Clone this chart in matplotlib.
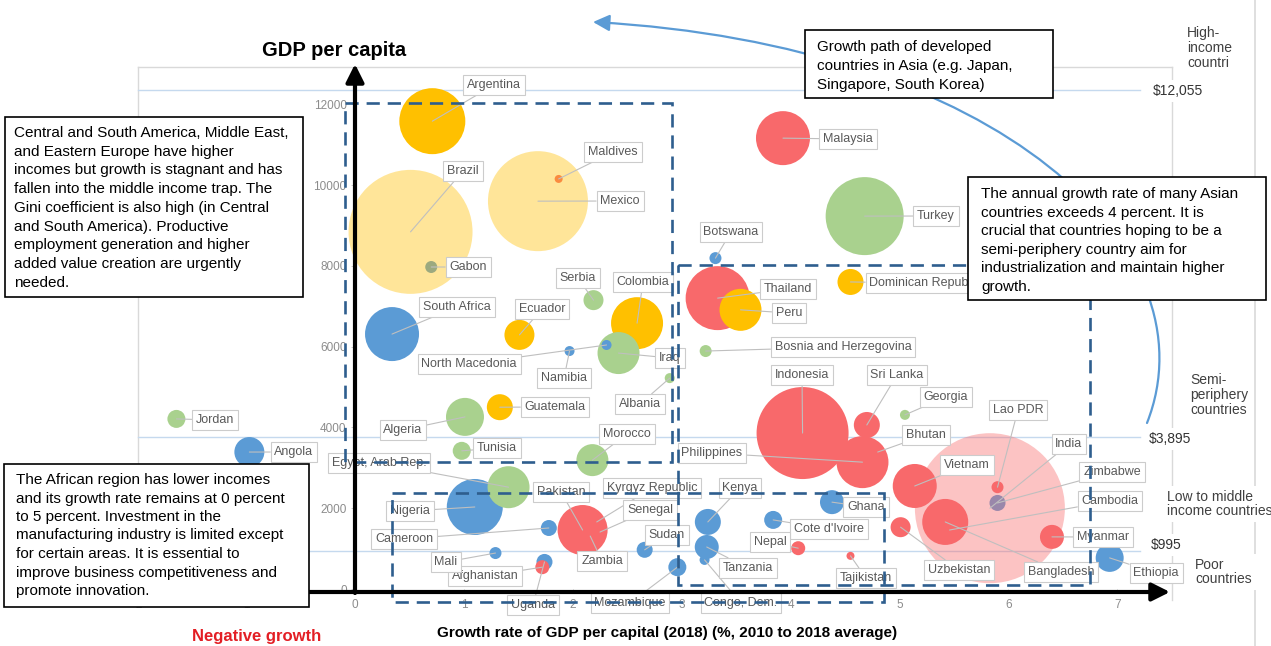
import matplotlib
matplotlib.use("Agg")
import matplotlib.pyplot as plt
from matplotlib.patches import Rectangle, FancyArrowPatch
from matplotlib.path import Path
from matplotlib.colors import to_rgba

plt.rcParams["font.family"] = ["Liberation Sans", "DejaVu Sans"]
plt.rcParams["axes.unicode_minus"] = False

# ---- data: growth (% avg 2010-2018), GDP per capita (US$), bubble size ----
countries = [
    "Zambia", "Kyrgyz Republic", "Senegal", "Congo, Dem.", "Bhutan", "Cambodia",
    "Indonesia", "Turkey", "Argentina", "Thailand", "Nigeria", "Malaysia",
    "South Africa", "Colombia", "Philippines", "Pakistan", "Bangladesh", "Vietnam",
    "Peru", "Iraq", "Egypt, Arab Rep.", "Algeria", "Morocco", "Ecuador", "Angola",
    "Ethiopia", "Kenya", "Guatemala", "Sri Lanka", "Dominican Republic", "Tanzania",
    "Ghana", "Myanmar", "Uzbekistan", "Serbia", "Jordan", "Tunisia", "Mozambique",
    "Cote d'Ivoire", "Cameroon", "Sudan", "Uganda", "Zimbabwe", "Afghanistan",
    "Nepal", "Gabon", "Mali", "Botswana", "Bosnia and Herzegovina", "Lao PDR",
    "North Macedonia", "Namibia", "Albania", "Georgia", "Maldives", "Tajikistan",
    "Brazil", "Mexico", "India",
]
growth = [
    2.16, 2.22, 2.25, 3.21, 4.80, 5.46,
    4.11, 4.68, 0.71, 3.33, 1.10, 3.93,
    0.34, 2.59, 4.66, 2.09, 5.42, 5.14,
    3.54, 2.42, 1.41, 1.01, 2.18, 1.51, -0.97,
    6.93, 3.24, 1.33, 4.70, 4.55, 3.23,
    4.38, 6.40, 5.01, 2.19, -1.64, 0.98, 2.96,
    3.84, 1.78, 2.66, 1.74, 5.90, 1.72,
    4.07, 0.70, 1.29, 3.31, 3.22, 5.90,
    2.31, 1.97, 2.89, 5.05, 1.87, 4.55,
    0.51, 1.68, 5.83,
]
gdp_per_capita = [
    1310, 1660, 1410, 720, 3390, 1460,
    3860, 9230, 11580, 7200, 2030, 11160,
    6310, 6580, 3140, 1460, 1660, 2550,
    6910, 5840, 2520, 4260, 3190, 6290, 3390,
    770, 1660, 4500, 4060, 7600, 1040,
    2150, 1290, 1530, 7150, 4210, 3420, 540,
    1710, 1510, 970, 670, 2130, 540,
    1010, 7970, 890, 8190, 5890, 2520,
    6040, 5890, 5220, 4310, 10150, 820,
    8840, 9600, 2000,
]
bubble_size = [
    6, 5, 6, 5, 7, 8,
    46, 39, 33, 32, 28, 27,
    27, 26, 26, 25, 23, 22,
    21, 21, 21, 19, 16, 15, 15,
    14, 13, 13, 13, 13, 12,
    12, 12, 10, 10, 9, 9, 9,
    9, 8, 8, 8, 8, 7,
    7, 6, 6, 6, 6, 6,
    5, 5, 5, 5, 4, 4,
    62, 50, 75,
]
region = [
    "Africa", "Asia", "Africa", "Africa", "Asia", "Asia",
    "Asia", "MidEast/Europe", "LatAm", "Asia", "Africa", "Asia",
    "Africa", "LatAm", "Asia", "Asia", "Asia", "Asia",
    "LatAm", "MidEast/Europe", "MidEast/Europe", "MidEast/Europe", "MidEast/Europe", "LatAm", "Africa",
    "Africa", "Africa", "LatAm", "Asia", "LatAm", "Africa",
    "Africa", "Asia", "Asia", "MidEast/Europe", "MidEast/Europe", "MidEast/Europe", "Africa",
    "Africa", "Africa", "Africa", "Africa", "Africa", "Asia",
    "Asia", "Africa", "Africa", "Africa", "MidEast/Europe", "Asia",
    "Africa", "Africa", "MidEast/Europe", "MidEast/Europe", "Asia", "Asia",
    "LatAm", "LatAm", "Asia",
]
translucent = ["Brazil", "Mexico", "India"]

x_ticks = [-2, -1, 0, 1, 2, 3, 4, 5, 6, 7]
y_ticks = [0, 2000, 4000, 6000, 8000, 10000, 12000]

threshold_labels = ["$12,055", "$3,895", "$995"]
group_labels = ["High-\nincome\ncountri", "Semi-\nperiphery\ncountries",
                "Low to middle\nincome countries", "Poor\ncountries"]

note_latam = ["Central and South America, Middle East,",
              "and Eastern Europe have higher",
              "incomes but growth is stagnant and has",
              "fallen into the middle income trap. The",
              "Gini coefficient is also high (in Central",
              "and South America). Productive",
              "employment generation and higher",
              "added value creation are urgently",
              "needed."]
note_africa = ["The African region has lower incomes",
               "and its growth rate remains at 0 percent",
               "to 5 percent. Investment in the",
               "manufacturing industry is limited except",
               "for certain areas. It is essential to",
               "improve business competitiveness and",
               "promote innovation."]
note_path = ["Growth path of developed",
             "countries in Asia (e.g. Japan,",
             "Singapore, South Korea)"]
note_asia = ["The annual growth rate of many Asian",
             "countries exceeds 4 percent. It is",
             "crucial that countries hoping to be a",
             "semi-periphery country aim for",
             "industrialization and maintain higher",
             "growth."]

# ---- styles / layout ----
region_colors = {"LatAm": "#FFC000", "Asia": "#F8696B",
                 "MidEast/Europe": "#A9D18E", "Africa": "#5B9BD5"}

# label box centres in figure pixels
label_xy = {
    "Argentina": (494, 85), "Brazil": (463, 171), "Mexico": (620, 201),
    "Maldives": (613, 152), "Gabon": (468, 267), "South Africa": (457, 307),
    "Ecuador": (542, 309), "North Macedonia": (469, 364), "Namibia": (564, 378),
    "Serbia": (578, 278), "Colombia": (643, 282), "Iraq": (670, 358),
    "Albania": (640, 404), "Guatemala": (555, 407), "Algeria": (403, 430),
    "Tunisia": (497, 448), "Jordan": (215, 420), "Angola": (294, 452),
    "Egypt, Arab Rep.": (379, 463), "Morocco": (627, 434), "Pakistan": (561, 492),
    "Zambia": (602, 561), "Cameroon": (404, 539), "Kyrgyz Republic": (652, 488),
    "Senegal": (650, 510), "Mali": (446, 562), "Afghanistan": (485, 576),
    "Uganda": (533, 605), "Sudan": (667, 535), "Mozambique": (630, 603),
    "Kenya": (740, 488), "Tanzania": (748, 568), "Congo, Dem.": (741, 603),
    "Cote d'Ivoire": (829, 529), "Nepal": (770, 542), "Tajikistan": (866, 578),
    "Ghana": (866, 507), "Malaysia": (848, 139), "Turkey": (936, 216),
    "Botswana": (731, 232), "Thailand": (788, 289), "Peru": (789, 313),
    "Dominican Republic": (925, 283), "Bosnia and Herzegovina": (843, 347),
    "Indonesia": (802, 375), "Sri Lanka": (897, 375), "Georgia": (946, 397),
    "Philippines": (712, 453), "Bhutan": (926, 435), "India": (1069, 444),
    "Lao PDR": (1018, 410), "Zimbabwe": (1112, 472), "Vietnam": (967, 465),
    "Bangladesh": (1061, 572), "Cambodia": (1110, 501), "Uzbekistan": (959, 570),
    "Myanmar": (1103, 537), "Ethiopia": (1156, 573), "Nigeria": (410, 511),
}

W, H = 1271, 646
X0, XS = 355, 108.9    # pixel column of growth 0, pixels per 1 %
Y0, YS = 589, 0.0404   # pixel row of GDP 0, pixels per US$

fig = plt.figure(figsize=(W / 100, H / 100), dpi=100)
fig.patch.set_facecolor("white")
ax = fig.add_axes([0, 0, 1, 1])
ax.set_xlim(-X0 / XS, (W - X0) / XS)
ax.set_ylim(-(H - Y0) / YS, Y0 / YS)

# overlay in pixel coordinates for annotations
px = fig.add_axes([0, 0, 1, 1], label="overlay")
px.set_xlim(0, W)
px.set_ylim(H, 0)
px.axis("off")
px.patch.set_alpha(0)
T = px.transData

# axes: ticks at the origin
for s in ["top", "right"]:
    ax.spines[s].set_visible(False)
ax.spines["left"].set_position(("data", 0))
ax.spines["bottom"].set_position(("data", 0))
ax.spines["left"].set_color("none")
ax.spines["bottom"].set_color("none")
ax.set_xticks(x_ticks)
ax.set_yticks(y_ticks)
ax.tick_params(axis="both", labelsize=8.5, labelcolor="#8C8C8C", color="#BFBFBF",
               length=3, width=0.6)
ax.tick_params(axis="x", pad=4)
ax.tick_params(axis="y", pad=3)

# frame and threshold lines
grey, pale_blue = "#D9D9D9", "#C5D9EE"
ax.plot([138, 1172], [67, 67], color=grey, lw=1, transform=T, zorder=1)
ax.plot([138, 138], [67, 600], color=grey, lw=1, transform=T, zorder=1)
ax.plot([1172, 1172], [67, 600], color=grey, lw=1, transform=T, zorder=1)
ax.plot([1255, 1255], [0, 646], color=grey, lw=1.2, transform=T, zorder=1)
for yy in [90, 437, 551]:
    ax.plot([138, 1140], [yy, yy], color=pale_blue, lw=1, transform=T, zorder=1)

# bubbles
colors = [to_rgba(region_colors[r], 0.4 if c in translucent else 1.0)
          for c, r in zip(countries, region)]
sizes = [(1.44 * s) ** 2 for s in bubble_size]
ax.scatter(growth, gdp_per_capita, s=sizes, c=colors, linewidths=0, zorder=2)

# country labels with leader lines
for c, gx, gy in zip(countries, growth, gdp_per_capita):
    ax.annotate(c, xy=(gx, gy), xytext=label_xy[c], textcoords=T,
                ha="center", va="center", fontsize=9, color="#595959",
                bbox=dict(boxstyle="square,pad=0.3", fc="white", ec="#CCCCCC", lw=0.8),
                arrowprops=dict(arrowstyle="-", color="#BFBFBF", lw=0.8,
                                shrinkA=0, shrinkB=0),
                zorder=3)

# dashed group boxes
dash = dict(fill=False, edgecolor="#2E5E8E", lw=1.9, linestyle=(0, (5, 3)), zorder=3)
px.add_patch(Rectangle((345, 103), 672 - 345, 462 - 103, **dash))
px.add_patch(Rectangle((678, 265), 1090 - 678, 585 - 265, **dash))
px.add_patch(Rectangle((392, 493), 884 - 392, 602 - 493, **dash))

# black axis arrows
arrow = dict(arrowstyle="-|>,head_length=0.9,head_width=0.45", lw=3, color="black",
             shrinkA=0, shrinkB=0, mutation_scale=12)
px.annotate("", xy=(355, 64), xytext=(355, 593), arrowprops=arrow, zorder=4)
px.annotate("", xy=(1170, 592), xytext=(140, 592), arrowprops=arrow, zorder=4)

# curved growth path arrow
curve = Path([(1147, 423), (1215, 250), (1000, 45), (593, 22)],
             [Path.MOVETO, Path.CURVE4, Path.CURVE4, Path.CURVE4])
px.add_patch(FancyArrowPatch(path=curve, arrowstyle="-|>,head_length=1.0,head_width=0.5",
                             mutation_scale=10, color="#5B9BD5", lw=1.6, zorder=4))

# axis titles
px.text(334, 50, "GDP per capita", fontsize=14.5, fontweight="bold", ha="center",
        va="center", zorder=6)
px.text(667, 633, "Growth rate of GDP per capital (2018) (%, 2010 to 2018 average)",
        fontsize=11, fontweight="bold", ha="center", va="center", zorder=6)
px.text(257, 636, "Negative growth", fontsize=12, fontweight="bold", color="#E31E24",
        ha="center", va="center", zorder=6)

# income group labels on the right
wbox = dict(fc="white", ec="none", pad=3)
for txt, (tx, ty) in zip(threshold_labels, [(1153, 91), (1149, 439), (1151, 545)]):
    px.text(tx, ty, txt, fontsize=10, color="#333333", ha="left", va="center",
            bbox=wbox, zorder=6)
for txt, (tx, ty) in zip(group_labels, [(1187, 48), (1190, 395), (1167, 504), (1195, 572)]):
    px.text(tx, ty, txt, fontsize=10, color="#404040", ha="left", va="center",
            linespacing=1.05, bbox=wbox, zorder=6)


# explanatory text boxes
def note(x0, y0, x1, y1, lines, tx, ty, pitch=18.7):
    px.add_patch(Rectangle((x0, y0), x1 - x0, y1 - y0, facecolor="white",
                           edgecolor="black", lw=1.2, zorder=5))
    for i, ln in enumerate(lines):
        px.text(tx, ty + i * pitch, ln, fontsize=11, color="black", ha="left",
                va="center", zorder=6)


note(5, 117, 303, 297, note_latam, 14, 133)
note(4, 464, 309, 607, note_africa, 16, 480, 18.5)
note(805, 30, 1053, 98, note_path, 817, 47, 19)
note(968, 177, 1266, 300, note_asia, 981, 194, 18.6)

fig.savefig("out.png", dpi=100, facecolor="white")
